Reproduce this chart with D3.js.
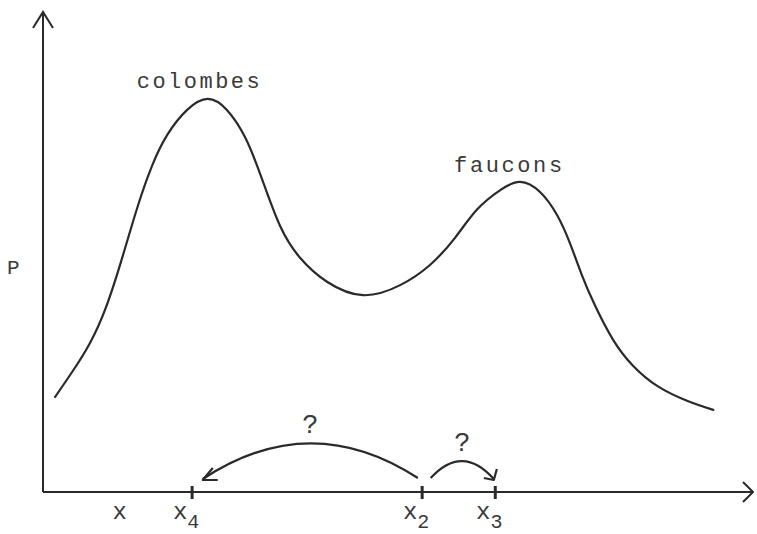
<!DOCTYPE html>
<html>
<head>
<meta charset="utf-8">
<script src="https://cdn.jsdelivr.net/npm/d3@7"></script>
<style>
  html, body { margin: 0; padding: 0; background: #fff; }
  svg { display: block; }
  text { font-family: "Liberation Mono", "DejaVu Sans Mono", monospace; fill: #3a3a3a; }
</style>
</head>
<body>
<svg id="chart" width="757" height="534"></svg>
<script>
// Trait value (x) and frequency P of each strategy, hand-sampled along the curve
const traitX = [1.7, 4.1, 6.6, 9.0, 11.3, 13.4, 15.4, 17.5, 20.3, 23.2, 25.9, 28.5, 30.8, 33.4,
                36.2, 40.0, 45.1, 50.3, 54.5, 58.0, 61.1, 64.4, 67.2, 70.0, 72.4, 74.2, 75.9,
                77.7, 80.3, 83.1, 86.5, 90.7, 94.4];
const freqP  = [19.8, 25.0, 31.0, 39.0, 49.5, 59.8, 68.1, 74.4, 79.6, 81.9, 79.6, 73.8, 65.4, 55.4,
                48.8, 43.8, 41.0, 43.1, 47.3, 52.9, 58.8, 62.9, 64.6, 62.5, 57.7, 51.9, 45.2,
                39.0, 31.7, 26.3, 22.1, 19.0, 17.1];

// Marked positions on the trait axis
const tickNames = ["x4", "x2", "x3"];
const tickPos   = [21.0, 53.4, 63.7];
const plainLabel = "x";
const plainLabelPos = 10.8;

// Peak labels
const peakNames = ["colombes", "faucons"];
const peakX     = [13.2, 57.9];
const peakY     = [84.2, 66.7];

// Jumps between positions (start -> end), drawn as arcs with a "?" on top
const jumpFrom = [52.8, 54.6];
const jumpTo   = [22.5, 63.5];
const jumpTop  = [10.2, 6.5];

const svg = d3.select("#chart");
const x = d3.scaleLinear().domain([0, 100]).range([43, 753]);
const y = d3.scaleLinear().domain([0, 100]).range([492, 12]);
const ink = "#2a2a2a";

// Axes with open arrowheads
svg.append("line").attr("x1", x(0)).attr("y1", y(0)).attr("x2", x(0)).attr("y2", y(100))
  .attr("stroke", ink).attr("stroke-width", 2);
svg.append("path")
  .attr("d", `M${x(0) - 10},${y(100) + 16} L${x(0)},${y(100)} L${x(0) + 10},${y(100) + 16}`)
  .attr("fill", "none").attr("stroke", ink).attr("stroke-width", 2);
svg.append("line").attr("x1", x(0)).attr("y1", y(0)).attr("x2", x(100)).attr("y2", y(0))
  .attr("stroke", ink).attr("stroke-width", 2);
svg.append("path")
  .attr("d", `M${x(100) - 10},${y(0) - 10} L${x(100)},${y(0)} L${x(100) - 10},${y(0) + 10}`)
  .attr("fill", "none").attr("stroke", ink).attr("stroke-width", 2);

// Axis name
svg.append("text").attr("x", 7).attr("y", 274).attr("font-size", 21).text("P");

// Distribution curve
const pts = traitX.map((d, i) => [d, freqP[i]]);
svg.append("path")
  .attr("d", d3.line().x(d => x(d[0])).y(d => y(d[1])).curve(d3.curveNatural)(pts))
  .attr("fill", "none").attr("stroke", ink).attr("stroke-width", 2.2)
  .attr("stroke-linejoin", "round").attr("stroke-linecap", "round");

// Peak labels
const peakWidths = [123, 108];
peakNames.forEach((name, i) => {
  svg.append("text").attr("x", x(peakX[i])).attr("y", y(peakY[i]))
    .attr("font-size", 22).attr("textLength", peakWidths[i]).attr("lengthAdjust", "spacing")
    .text(name);
});

// Tick marks and their labels
tickPos.forEach((p, i) => {
  svg.append("line").attr("x1", x(p)).attr("x2", x(p)).attr("y1", y(0) - 6).attr("y2", y(0) + 7)
    .attr("stroke", ink).attr("stroke-width", 3);
  const t = svg.append("text").attr("x", x(p) - 6).attr("y", 519).attr("font-size", 24)
    .attr("text-anchor", "middle");
  t.append("tspan").text(tickNames[i][0]);
  t.append("tspan").attr("dy", 9).attr("dx", 0).attr("font-size", 20).text(tickNames[i].slice(1));
});
svg.append("text").attr("x", x(plainLabelPos)).attr("y", 519).attr("font-size", 24)
  .attr("text-anchor", "middle").text(plainLabel);

// Jump arcs with arrowheads and question marks
jumpFrom.forEach((a, i) => {
  const b = jumpTo[i];
  const x0 = x(a), x1 = x(b), y0 = y(0) - 14, yTop = y(jumpTop[i]);
  const cy = (4 * yTop - 2 * y0) / 2;
  const mx = (x0 + x1) / 2;
  svg.append("path")
    .attr("d", `M${x0},${y0} Q${mx},${cy} ${x1},${y0 + 1}`)
    .attr("fill", "none").attr("stroke", ink).attr("stroke-width", 2.2);
  // arrowhead at the end point
  const dir = Math.sign(x1 - x0);
  const tx = x1, ty = y0 + 2;
  svg.append("path")
    .attr("d", dir < 0
      ? `M${tx + 10},${ty - 12} L${tx},${ty} L${tx + 15},${ty}`
      : `M${tx - 10},${ty - 2} L${tx},${ty} L${tx + 3},${ty - 11}`)
    .attr("fill", "none").attr("stroke", ink).attr("stroke-width", 2.2)
    .attr("stroke-linejoin", "round");
  svg.append("text").attr("x", mx).attr("y", yTop - 10).attr("font-size", 27)
    .attr("text-anchor", "middle").text("?");
});
</script>
</body>
</html>
